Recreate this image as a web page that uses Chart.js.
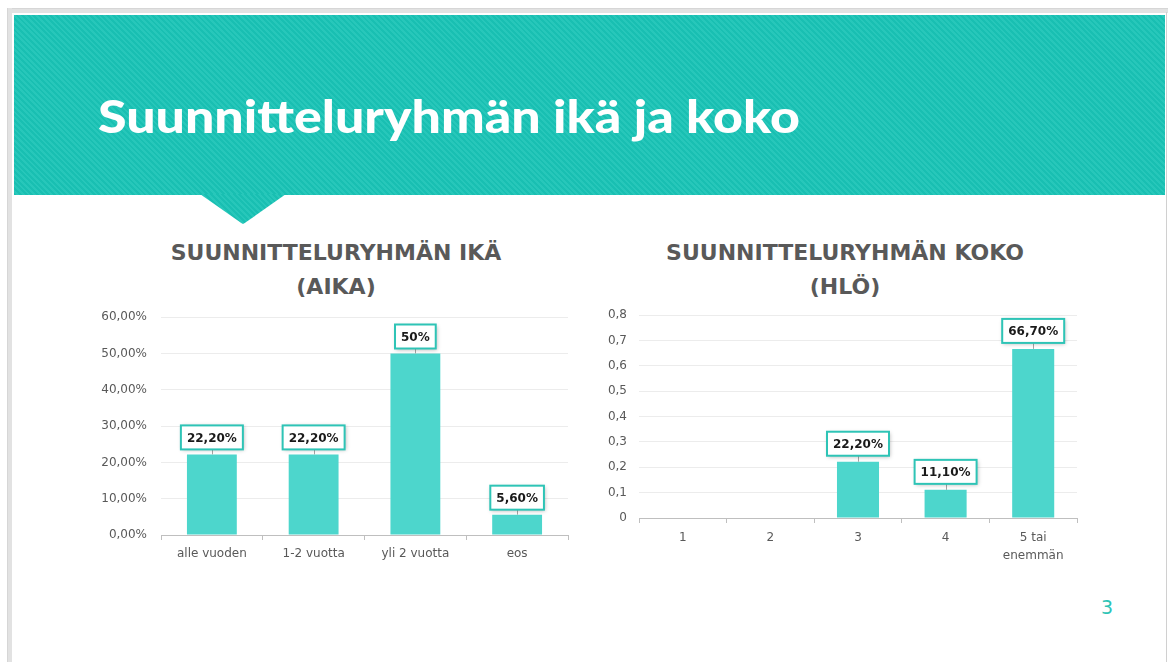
<!DOCTYPE html>
<html>
<head>
<meta charset="utf-8">
<script src="https://cdn.jsdelivr.net/npm/chart.js@4.4.1/dist/chart.umd.min.js"></script>
<style>
  html, body { margin:0; padding:0; background:#ffffff; width:1168px; height:662px; overflow:hidden; }
  #frameTop { position:absolute; left:7px; top:8px; width:1161px; height:4px; background:#e2e2e2; border-top:1px solid #d6d6d6; }
  #frameLeft { position:absolute; left:7px; top:8px; width:4px; height:654px; background:#e2e2e2; border-left:1px solid #d6d6d6; }
  #frameRight { position:absolute; left:1166px; top:12px; width:1px; height:650px; background:#d0d0d0; }
  .stripe { background: repeating-linear-gradient(45deg, #19bfb2 0px, #19bfb2 2px, #27c7ba 2px, #27c7ba 4px); }
  #band { position:absolute; left:14px; top:15px; width:1151px; height:180px; }
  #notch { position:absolute; left:200px; top:194px; width:86px; height:30px;
           clip-path: polygon(0 0, 100% 0, 52% 97%, 50% 100%, 48% 97%); }
  #mainTitle { position:absolute; left:98px; top:88px; color:#ffffff; font-family:"Lato","DejaVu Sans",sans-serif;
               font-weight:900; font-size:46px; line-height:56px; white-space:nowrap; transform-origin:left center; }
  .ctitle { position:absolute; color:#595959; font-family:"DejaVu Sans",sans-serif; font-weight:700; font-size:22px;
            line-height:34px; text-align:center; width:500px; white-space:nowrap; }
  #pageNum { position:absolute; left:1101px; top:596px; color:#2ec4b6; font-family:"DejaVu Sans",sans-serif; font-size:19px; }
  canvas { position:absolute; }
</style>
</head>
<body>
<div id="frameTop"></div>
<div id="frameLeft"></div>
<div id="frameRight"></div>
<div id="band" class="stripe"></div>
<div id="notch" class="stripe"></div>
<div id="mainTitle">Suunnitteluryhmän ikä ja koko</div>
<div class="ctitle" style="left:86px; top:236px;">SUUNNITTELURYHMÄN IKÄ<br>(AIKA)</div>
<div class="ctitle" style="left:595px; top:236px;">SUUNNITTELURYHMÄN KOKO<br>(HLÖ)</div>
<div id="pageNum">3</div>
<div style="position:absolute; left:90px; top:296px; width:490px; height:279px;"><canvas id="c1" width="490" height="279"></canvas></div>
<div style="position:absolute; left:590px; top:296px; width:500px; height:279px;"><canvas id="c2" width="500" height="279"></canvas></div>
<script>
// ---- Data ----
const ageCategories = ['alle vuoden', '1-2 vuotta', 'yli 2 vuotta', 'eos'];
const ageValues = [0.222, 0.222, 0.5, 0.056];
const ageLabels = ['22,20%', '22,20%', '50%', '5,60%'];
const ageTickLabels = ['0,00%', '10,00%', '20,00%', '30,00%', '40,00%', '50,00%', '60,00%'];

const sizeCategories = ['1', '2', '3', '4', ['5 tai', 'enemmän']];
const sizeValues = [0, 0, 0.222, 0.111, 0.667];
const sizeLabels = ['', '', '22,20%', '11,10%', '66,70%'];
const sizeTickLabels = ['0', '0,1', '0,2', '0,3', '0,4', '0,5', '0,6', '0,7', '0,8'];

// ---- fit main title width ----
(function(){
  const el = document.getElementById('mainTitle');
  const w = el.getBoundingClientRect().width;
  const target = 702;
  el.style.transform = 'scaleX(' + (target / w) + ')';
})();

const BAR_COLOR = '#4dd6cc';
const TICK_COLOR = '#595959';

const boxLabelPlugin = {
  id: 'boxLabels',
  afterDatasetsDraw(chart, args, opts) {
    const ctx = chart.ctx;
    const meta = chart.getDatasetMeta(0);
    const labels = opts.labels;
    ctx.save();
    ctx.font = 'bold 12px "DejaVu Sans", sans-serif';
    meta.data.forEach((bar, i) => {
      const txt = labels[i];
      if (!txt) return;
      const x = bar.x, top = bar.y;
      const gap = opts.gap;
      const h = 24;
      const w = ctx.measureText(txt).width + 12;
      const by = top - gap - h;
      ctx.strokeStyle = '#a6a6a6';
      ctx.lineWidth = 1;
      ctx.beginPath();
      ctx.moveTo(Math.round(x) + 0.5, top);
      ctx.lineTo(Math.round(x) + 0.5, by + h);
      ctx.stroke();
      ctx.save();
      ctx.shadowColor = 'rgba(0,0,0,0.28)';
      ctx.shadowBlur = 4;
      ctx.shadowOffsetX = 1;
      ctx.shadowOffsetY = 1;
      ctx.fillStyle = '#ffffff';
      ctx.fillRect(x - w / 2, by, w, h);
      ctx.restore();
      ctx.strokeStyle = '#2ec4b6';
      ctx.lineWidth = 2;
      ctx.strokeRect(x - w / 2, by, w, h);
      ctx.fillStyle = '#1a1a1a';
      ctx.textAlign = 'center';
      ctx.textBaseline = 'middle';
      ctx.fillText(txt, x, by + h / 2 + 1);
    });
    ctx.restore();
  }
};

function makeChart(id, cats, vals, labels, tickLabels, maxV, yWidth, xHeight, padTop, padRight, barPct, xLineHeight, gap, yPad) {
  return new Chart(document.getElementById(id), {
    type: 'bar',
    data: { labels: cats, datasets: [{ data: vals, backgroundColor: BAR_COLOR, borderWidth: 0,
             categoryPercentage: 1.0, barPercentage: barPct }] },
    plugins: [boxLabelPlugin],
    options: {
      responsive: false, animation: false, devicePixelRatio: 1,
      layout: { padding: { top: padTop, right: padRight, left: 0, bottom: 0 } },
      plugins: { legend: { display: false }, tooltip: { enabled: false }, title: { display: false },
                 boxLabels: { labels: labels, gap: gap } },
      scales: {
        x: {
          offset: true,
          grid: { display: true, drawOnChartArea: false, drawTicks: true, tickLength: 5, color: '#bfbfbf', offset: true },
          border: { display: true, color: '#bfbfbf', width: 1 },
          ticks: { color: TICK_COLOR, font: { family: '"DejaVu Sans", sans-serif', size: 12, lineHeight: xLineHeight },
                   padding: 6, maxRotation: 0, autoSkip: false },
          afterFit(s) { s.height = xHeight; }
        },
        y: {
          min: 0, max: maxV,
          ticks: { stepSize: 0.1, color: TICK_COLOR, padding: yPad,
                   font: { family: '"DejaVu Sans", sans-serif', size: 12 },
                   callback: (v, i) => tickLabels[i] },
          grid: { color: '#ececec', drawTicks: false, lineWidth: 1 },
          border: { display: false },
          afterFit(s) { s.width = yWidth; }
        }
      }
    }
  });
}

makeChart('c1', ageCategories, ageValues, ageLabels, ageTickLabels, 0.6, 71, 40, 0, 12, 0.49, 1.3, 5, 14);
makeChart('c2', sizeCategories, sizeValues, sizeLabels, sizeTickLabels, 0.8, 49, 57, 0, 13, 0.48, 1.5, 6, 12);
</script>
</body>
</html>
